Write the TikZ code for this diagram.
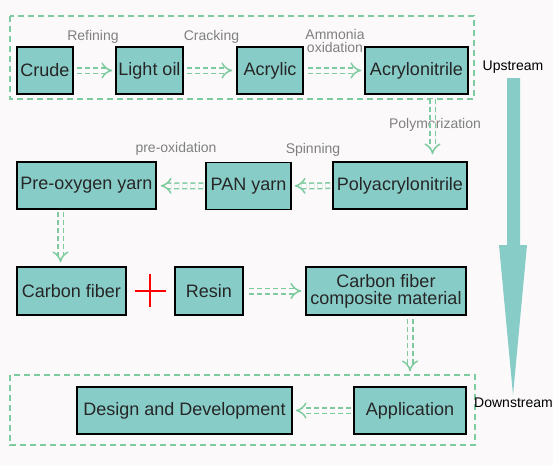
\documentclass[tikz,border=0pt]{standalone}
\usepackage{fontspec}
\setmainfont{Liberation Sans}
\usepackage{tikz}
\usetikzlibrary{arrows}

\definecolor{boxteal}{RGB}{136,204,200}
\definecolor{flowgreen}{RGB}{125,203,158}
\definecolor{bgpaper}{RGB}{251,249,250}
\definecolor{labelgray}{RGB}{128,128,128}

\tikzset{
  stagebox/.style={draw=black, line width=1.5pt, fill=boxteal, inner sep=0pt,
    font=\fontsize{18}{17}\selectfont, text=black!85},
  flow/.style={draw=flowgreen, line width=1.5pt, double=bgpaper, double distance=4pt,
    dash pattern=on 5pt off 3pt, -implies},
  steplabel/.style={text=labelgray, font=\fontsize{14}{13}\selectfont, inner sep=0pt},
  zone/.style={draw=flowgreen, line width=1.5pt, dash pattern=on 6pt off 4pt},
}

\begin{document}
\begin{tikzpicture}[x=1pt, y=-1pt]
        \fill[bgpaper] (0,0) rectangle (553,466);
        \useasboundingbox (0,0) rectangle (553,466);

        % Zones
        \draw[zone] (10,16) rectangle (474,99);
        \draw[zone] (10,375) rectangle (475,445);

        % Stages
        \node[stagebox, minimum width=56, minimum height=47] (crude) at (45,70.5) {Crude};
        \node[stagebox, minimum width=67, minimum height=47] (lightoil) at (149.5,70.5) {Light oil};
        \node[stagebox, minimum width=66, minimum height=47] (acrylic) at (270,70.5) {Acrylic};
        \node[stagebox, minimum width=103, minimum height=47] (acrylonitrile) at (416.5,70.5) {Acrylonitrile};
        \node[stagebox, minimum width=134, minimum height=47] (poly) at (400,185.5) {Polyacrylonitrile};
        \node[stagebox, minimum width=85, minimum height=47] (pan) at (248.5,186) {PAN yarn};
        \node[stagebox, minimum width=139, minimum height=47] (preoxy) at (86.5,185.5) {Pre-oxygen yarn};
        \node[stagebox, minimum width=109, minimum height=48] (carbon) at (71.5,291) {Carbon fiber};
        \node[stagebox, minimum width=68, minimum height=48] (resin) at (209,291) {Resin};
        \node[stagebox, minimum width=160, minimum height=48, align=center] (composite) at (386,291) {Carbon fiber\\composite material};
        \node[stagebox, minimum width=215, minimum height=47] (design) at (184.5,410.5) {Design and Development};
        \node[stagebox, minimum width=112, minimum height=47] (application) at (410,410.5) {Application};

        % Process names
        \node[steplabel] (refining) at (93,37) {Refining};
        \node[steplabel] (cracking) at (211.5,37) {Cracking};
        \node[steplabel, align=center] (ammonia) at (335,41) {Ammonia\\oxidation};
        \node[steplabel] (polymerization) at (435,125) {Polymerization};
        \node[steplabel] (spinning) at (313,150) {Spinning};
        \node[steplabel] (preoxidation) at (176,149) {pre-oxidation};

        % Edge
        \draw[flow, shorten <=3pt, shorten >=3pt] (crude) -- (lightoil);
        \draw[flow, shorten <=3pt, shorten >=4pt] (lightoil) -- (acrylic);
        \draw[flow, shorten <=4pt, shorten >=3pt] (acrylic) -- (acrylonitrile);
        \draw[flow, shorten <=4pt, shorten >=7pt] ([xshift=16]acrylonitrile.south) -- ([xshift=16]acrylonitrile.south |- poly.north);
        \draw[flow, shorten <=2pt, shorten >=3pt] (poly) -- (pan);
        \draw[flow, shorten <=2pt, shorten >=4pt] (pan) -- (preoxy);
        \draw[flow, shorten <=2pt, shorten >=4pt] ([xshift=-26]preoxy.south) -- ([xshift=-26]preoxy.south |- carbon.north);
        \draw[flow, shorten <=5pt, shorten >=4pt] (resin) -- (composite);
        \draw[flow, shorten <=3pt, shorten >=15pt] (composite.south -| application.north) -- (application.north);
        \draw[flow, shorten <=2pt, shorten >=3pt] (application) -- (design);

        % Plus
        \draw[red, line width=2pt] (135,291) -- (166,291);
        \draw[red, line width=2pt] (150,274) -- (150,307);

        % Upstream to downstream
        \node[font=\fontsize{14}{14}\selectfont] (upstream) at (513,67) {Upstream};
        \node[font=\fontsize{14}{14}\selectfont, inner sep=0pt] (downstream) at (513.5,403) {Downstream};
        \fill[boxteal] (507,78) -- (520,78) -- (520,245) -- (527,245) -- (513,395)
          -- (499,245) -- (507,245) -- cycle;
\end{tikzpicture}
\end{document}
